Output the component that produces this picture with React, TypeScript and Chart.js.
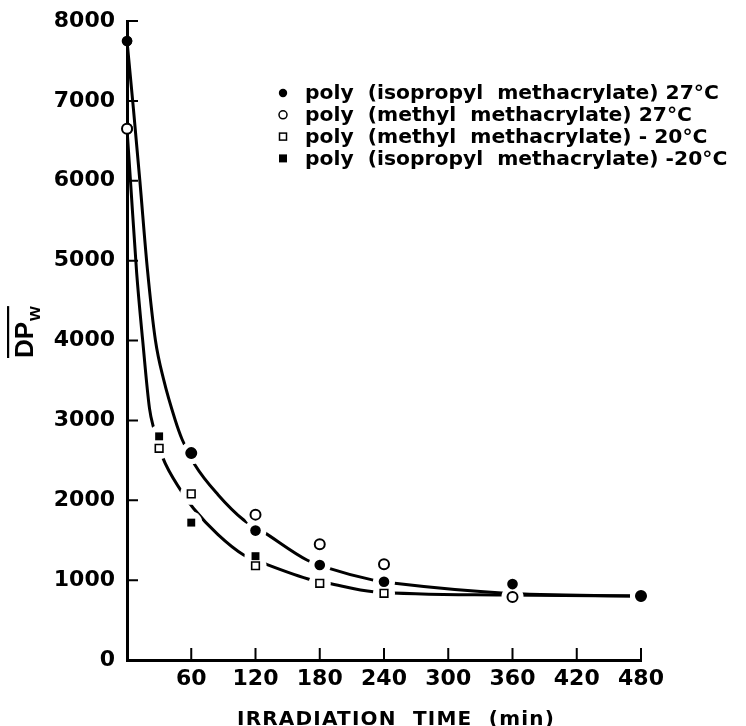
import React, { useEffect, useRef } from 'react';
import { Chart, registerables } from 'chart.js';

Chart.register(...registerables);

// ---- data ----
const xTickValues = [60, 120, 180, 240, 300, 360, 420, 480];
const yTickValues = [0, 1000, 2000, 3000, 4000, 5000, 6000, 7000, 8000];

const pipma27Times = [0, 60, 120, 180, 240, 360, 480];
const pipma27DPw = [7750, 2590, 1620, 1190, 980, 950, 800];

const pmma27Times = [0, 60, 120, 180, 240, 360, 480];
const pmma27DPw = [6650, 2590, 1820, 1450, 1200, 790, 800];

const pmmaMinus20Times = [30, 60, 120, 180, 240];
const pmmaMinus20DPw = [2650, 2080, 1180, 960, 835];

const pipmaMinus20Times = [30, 60, 120];
const pipmaMinus20DPw = [2800, 1720, 1300];

// hand-drawn fitted curves
const upperCurveTimes = [0, 6, 12, 19, 26.5, 34.3, 45, 51.4, 63.5, 85, 109, 127, 168, 188, 230, 250, 350, 480];
const upperCurveDPw = [7750, 6900, 6000, 4900, 4007, 3506, 3005, 2764, 2442, 2070, 1753, 1607, 1252, 1150, 1000, 960, 840, 800];

const lowerCurveTimes = [0, 3, 9, 14.6, 21, 25, 33, 51, 62, 85, 109, 127, 173, 188, 230, 350, 480];
const lowerCurveDPw = [6650, 6050, 4850, 4007, 3150, 2900, 2546, 2108, 1900, 1570, 1315, 1215, 1000, 960, 855, 814, 800];

const legendLabels = [
  'poly  (isopropyl  methacrylate) 27°C',
  'poly  (methyl  methacrylate) 27°C',
  'poly  (methyl  methacrylate) - 20°C',
  'poly  (isopropyl  methacrylate) -20°C',
];

const xTitle = 'IRRADIATION  TIME  (min)';

const toPts = (xs: number[], ys: number[]) => xs.map((x, i) => ({ x, y: ys[i] }));

const TICK_FONT = { family: '"DejaVu Sans"', size: 22, weight: 'bold' as const };
const MARKER_COUNT = 4;

const App = () => {
  const canvasRef = useRef<HTMLCanvasElement | null>(null);

  useEffect(() => {
    const canvas = canvasRef.current;
    if (!canvas) return;

    const markerSets = [
      { data: toPts(pipma27Times, pipma27DPw), pointStyle: 'circle', pointRadius: 5.3, bg: '#000', bw: 0 },
      { data: toPts(pmma27Times, pmma27DPw), pointStyle: 'circle', pointRadius: 5, bg: '#fff', bw: 2 },
      { data: toPts(pipmaMinus20Times, pipmaMinus20DPw), pointStyle: 'rect', pointRadius: 5.6, bg: '#000', bw: 0 },
      { data: toPts(pmmaMinus20Times, pmmaMinus20DPw), pointStyle: 'rect', pointRadius: 5.4, bg: '#fff', bw: 1.6 },
    ];

    const decorPlugin = {
      id: 'decor',
      afterDraw(chart: any) {
        const ctx = chart.ctx;
        const area = chart.chartArea;
        const xs = chart.scales.x;
        const ys = chart.scales.y;

        // white gaps in the fitted curves around each measured point
        ctx.save();
        ctx.fillStyle = '#ffffff';
        for (let d = 0; d < MARKER_COUNT; d++) {
          const meta = chart.getDatasetMeta(d);
          for (const el of meta.data) {
            if (el.x <= area.left + 2) continue;
            ctx.beginPath();
            ctx.arc(el.x, el.y, 11, 0, Math.PI * 2);
            ctx.closePath();
            ctx.fill();
          }
        }
        ctx.restore();
        // markers on top again
        for (let d = MARKER_COUNT - 1; d >= 0; d--) {
          const meta = chart.getDatasetMeta(d);
          for (const el of meta.data) {
            ctx.save();
            el.draw(ctx, area);
            ctx.restore();
          }
        }

        ctx.save();
        // inward tick marks
        ctx.strokeStyle = '#000';
        ctx.lineWidth = 2;
        ctx.beginPath();
        for (const v of yTickValues) {
          if (v === 0) continue;
          const py = ys.getPixelForValue(v);
          ctx.moveTo(area.left, py);
          ctx.lineTo(area.left + 11, py);
        }
        for (const v of xTickValues) {
          const px = xs.getPixelForValue(v);
          ctx.moveTo(px, area.bottom);
          ctx.lineTo(px, area.bottom - 12);
        }
        ctx.stroke();

        // legend
        const mx = area.left + 156;
        const tx = area.left + 178;
        const rowY0 = area.top + 72;
        const rowGap = 21.8;
        ctx.fillStyle = '#000';
        ctx.font = 'bold 20.3px "DejaVu Sans"';
        ctx.textBaseline = 'middle';
        ctx.textAlign = 'left';
        legendLabels.forEach((label, i) => {
          const y = rowY0 + i * rowGap;
          ctx.lineWidth = 1.5;
          if (i === 0) {
            ctx.beginPath();
            ctx.arc(mx, y, 4.2, 0, Math.PI * 2);
            ctx.fill();
          } else if (i === 1) {
            ctx.beginPath();
            ctx.arc(mx, y, 4, 0, Math.PI * 2);
            ctx.stroke();
          } else if (i === 2) {
            ctx.strokeRect(mx - 3.5, y - 3.5, 7, 7);
          } else {
            ctx.fillRect(mx - 4, y - 4, 8, 8);
          }
          ctx.fillText(label, tx, y + 1);
        });

        // x title
        ctx.font = 'bold 20px "DejaVu Sans"';
        (ctx as any).letterSpacing = '1.2px';
        ctx.textAlign = 'center';
        ctx.textBaseline = 'alphabetic';
        ctx.fillText(xTitle, (area.left + area.right) / 2 + 12, area.bottom + 65);
        (ctx as any).letterSpacing = '0px';

        // y title: DP_w with overline, rotated
        ctx.translate(area.left - 94, area.top + 337);
        ctx.rotate(-Math.PI / 2);
        ctx.textAlign = 'left';
        ctx.font = 'bold 26px "Liberation Sans"';
        ctx.fillText('DP', 0, 0);
        const w1 = ctx.measureText('DP').width;
        ctx.font = 'bold 19px "Liberation Sans"';
        ctx.fillText('w', w1 + 1, 7);
        const w2 = ctx.measureText('w').width;
        ctx.fillRect(0, -26, w1 + 1 + w2, 2.2);
        ctx.restore();
      },
    };

    const chart = new Chart(canvas, {
      type: 'scatter',
      data: {
        datasets: [
          ...markerSets.map((m, i) => ({
            label: legendLabels[i],
            data: m.data,
            showLine: false,
            pointStyle: m.pointStyle as any,
            pointRadius: m.pointRadius,
            pointBackgroundColor: m.bg,
            pointBorderColor: '#000',
            pointBorderWidth: m.bw,
            pointHoverRadius: m.pointRadius,
          })),
          {
            label: 'upper fit',
            data: toPts(upperCurveTimes, upperCurveDPw),
            showLine: true,
            borderColor: '#000',
            borderWidth: 3,
            pointRadius: 0,
            cubicInterpolationMode: 'monotone' as const,
            fill: false,
          },
          {
            label: 'lower fit',
            data: toPts(lowerCurveTimes, lowerCurveDPw),
            showLine: true,
            borderColor: '#000',
            borderWidth: 3,
            pointRadius: 0,
            cubicInterpolationMode: 'monotone' as const,
            fill: false,
          },
        ],
      },
      options: {
        responsive: false,
        animation: false,
        devicePixelRatio: 1,
        events: [],
        layout: { padding: { left: 0, top: 21, right: 105, bottom: 0 } },
        plugins: {
          legend: { display: false },
          tooltip: { enabled: false },
        },
        scales: {
          x: {
            type: 'linear',
            min: 0,
            max: 480,
            position: 'bottom',
            afterBuildTicks: (s: any) => {
              s.ticks = xTickValues.map((v) => ({ value: v }));
            },
            afterFit: (s: any) => {
              s.height = 66;
              s.paddingLeft = 0;
              s.paddingRight = 0;
            },
            grid: { display: false, drawTicks: false },
            border: { display: true, color: '#000', width: 3 },
            ticks: {
              color: '#000',
              font: TICK_FONT,
              padding: 6,
              maxRotation: 0,
              autoSkip: false,
              callback: (v: any) => String(v),
            },
          },
          y: {
            type: 'linear',
            min: 0,
            max: 8000,
            afterBuildTicks: (s: any) => {
              s.ticks = yTickValues.map((v) => ({ value: v }));
            },
            afterFit: (s: any) => {
              s.width = 127;
              s.paddingTop = 0;
              s.paddingBottom = 0;
            },
            grid: { display: false, drawTicks: false },
            border: { display: true, color: '#000', width: 3 },
            ticks: {
              color: '#000',
              font: TICK_FONT,
              padding: 12,
              autoSkip: false,
              callback: (v: any) => String(v),
            },
          },
        },
      },
      plugins: [decorPlugin],
    } as any);

    return () => chart.destroy();
  }, []);

  return (
    <div style={{ position: 'fixed', left: 0, top: 0, width: 746, height: 726, background: '#fff' }}>
      <canvas ref={canvasRef} width={746} height={726} style={{ display: 'block', width: 746, height: 726 }} />
    </div>
  );
};

export default App;
